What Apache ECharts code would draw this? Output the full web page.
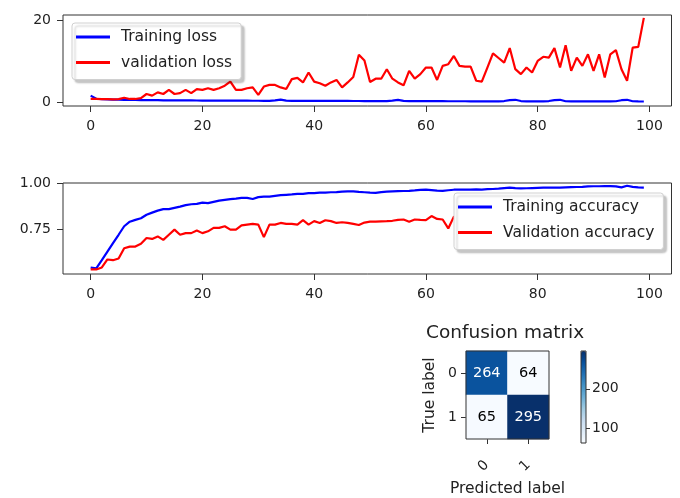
<!DOCTYPE html>
<html>
<head>
<meta charset="utf-8">
<script src="https://cdn.jsdelivr.net/npm/echarts@6/dist/echarts.min.js"></script>
<style>
  html, body { margin: 0; padding: 0; background: #fff; }
  #chart { width: 680px; height: 498px; }
</style>
</head>
<body>
<div id="chart"></div>
<script>
// epochs 0..99
const epochs = Array.from({ length: 100 }, (_, i) => i);

const trainLoss = [
  1.7, 0.95, 0.85, 0.8, 0.75, 0.72, 0.7, 0.68, 0.66, 0.64,
  0.62, 0.6, 0.6, 0.58, 0.57, 0.56, 0.55, 0.55, 0.54, 0.53,
  0.52, 0.52, 0.51, 0.5, 0.5, 0.49, 0.49, 0.48, 0.48, 0.47,
  0.47, 0.46, 0.46, 0.55, 0.75, 0.5, 0.45, 0.45, 0.44, 0.44,
  0.44, 0.43, 0.43, 0.43, 0.42, 0.42, 0.42, 0.41, 0.41, 0.4,
  0.4, 0.4, 0.39, 0.39, 0.5, 0.7, 0.45, 0.38, 0.37, 0.37,
  0.37, 0.36, 0.36, 0.36, 0.35, 0.35, 0.35, 0.35, 0.34, 0.34,
  0.34, 0.34, 0.34, 0.33, 0.4, 0.6, 0.7, 0.4, 0.33, 0.32,
  0.32, 0.32, 0.4, 0.6, 0.7, 0.35, 0.31, 0.31, 0.3, 0.3,
  0.3, 0.3, 0.3, 0.3, 0.35, 0.6, 0.7, 0.35, 0.3, 0.29
];
const valLoss = [
  0.9, 0.9, 0.85, 0.85, 0.8, 0.85, 1.2, 0.9, 0.9, 1.1,
  2.1, 1.7, 2.5, 2.1, 3.1, 2.1, 2.3, 3.1, 2.3, 3.3,
  3.1, 3.5, 3.1, 3.5, 4.1, 5.1, 3.1, 3.1, 3.5, 3.7,
  1.9, 3.9, 4.3, 4.3, 3.7, 3.3, 5.7, 6.0, 4.9, 7.3,
  5.1, 4.7, 4.1, 4.9, 5.5, 3.7, 4.9, 6.2, 11.6, 10.2,
  5.0, 5.8, 5.8, 8.1, 5.8, 4.9, 4.2, 7.7, 5.8, 6.9,
  8.5, 8.5, 5.5, 8.9, 9.3, 11.3, 8.9, 8.7, 8.7, 5.3,
  5.1, 8.5, 11.9, 10.8, 9.7, 13.2, 8.1, 6.9, 8.5, 7.3,
  10.1, 11.1, 10.9, 13.2, 8.5, 13.9, 7.7, 10.9, 8.9, 11.7,
  7.7, 11.7, 6.1, 11.7, 12.7, 8.1, 5.3, 13.3, 13.5, 20.5
];
const trainAcc = [
  0.538, 0.533, 0.578, 0.625, 0.672, 0.718, 0.765, 0.79, 0.80, 0.809,
  0.828, 0.84, 0.851, 0.859, 0.859, 0.866, 0.873, 0.881, 0.886, 0.888,
  0.895, 0.892, 0.899, 0.906, 0.91, 0.914, 0.917, 0.921, 0.921, 0.915,
  0.925, 0.928, 0.928, 0.932, 0.936, 0.938, 0.94, 0.943, 0.943, 0.947,
  0.947, 0.95, 0.95, 0.952, 0.953, 0.955, 0.957, 0.957, 0.954, 0.952,
  0.95, 0.949, 0.953, 0.955, 0.957, 0.958, 0.959, 0.96, 0.962, 0.965,
  0.967, 0.964, 0.961, 0.96, 0.963, 0.966, 0.967, 0.966, 0.967, 0.968,
  0.967, 0.969, 0.97, 0.972, 0.975, 0.978, 0.975, 0.973, 0.974, 0.975,
  0.976, 0.977, 0.977, 0.978, 0.978, 0.979, 0.98, 0.981, 0.982, 0.984,
  0.985, 0.985, 0.986, 0.986, 0.984, 0.979, 0.988, 0.982, 0.979, 0.978
];
const valAcc = [
  0.527, 0.527, 0.538, 0.582, 0.578, 0.587, 0.644, 0.653, 0.653, 0.668,
  0.70, 0.695, 0.709, 0.69, 0.718, 0.746, 0.718, 0.727, 0.727, 0.742,
  0.727, 0.737, 0.756, 0.756, 0.765, 0.746, 0.746, 0.77, 0.774, 0.778,
  0.774, 0.705, 0.774, 0.774, 0.783, 0.778, 0.778, 0.774, 0.798, 0.774,
  0.793, 0.783, 0.798, 0.793, 0.783, 0.787, 0.783, 0.778, 0.772, 0.785,
  0.79, 0.79, 0.792, 0.793, 0.795, 0.80, 0.802, 0.79, 0.802, 0.80,
  0.799, 0.821, 0.805, 0.802, 0.753, 0.818, 0.805, 0.81, 0.80, 0.815,
  0.82, 0.81, 0.805, 0.82, 0.815, 0.81, 0.825, 0.82, 0.81, 0.82,
  0.815, 0.83, 0.82, 0.81, 0.825, 0.82, 0.815, 0.83, 0.82, 0.81,
  0.825, 0.82, 0.83, 0.815, 0.82, 0.81, 0.825, 0.82, 0.80, 0.815
];

const epochTicks = [0, 20, 40, 60, 80, 100];
const lossTicks = [0, 20];
const accTicks = [0.75, 1.0];

const cmLabels = ['0', '1'];
const cmValues = [
  [264, 64],
  [65, 295]
];
const cbTicks = [100, 200];
const blues = ['#f7fbff', '#deebf7', '#c6dbef', '#9ecae1', '#6baed6', '#4292c6', '#2171b5', '#08519c', '#08306b'];

const FONT = 'DejaVu Sans';
const ink = '#222';
const axisCol = '#333';

function pairs(vals) {
  return epochs.map(i => [i, vals[i]]);
}

let cmMax = Math.max(...cmValues.flat());
let cmMin = Math.min(...cmValues.flat());
let cmData = [];
cmValues.forEach((row, r) => {
  row.forEach((v, c) => {
    cmData.push({
      value: [c, r, v],
      label: { color: v > cmMax / 2 ? '#fff' : '#000' }
    });
  });
});

function epochAxis(gi) {
  return {
    gridIndex: gi, type: 'value', min: -4.95, max: 103.95,
    splitLine: { show: false },
    axisLine: { show: false, onZero: false },
    axisTick: { show: true, length: 6, lineStyle: { color: axisCol }, customValues: epochTicks },
    axisLabel: { customValues: epochTicks, margin: 13, fontFamily: FONT, fontSize: 14, color: ink }
  };
}

function legendBox(top, left, names) {
  return {
    orient: 'vertical', left: left, top: top,
    data: names,
    icon: 'rect', itemWidth: 34, itemHeight: 3, itemGap: 8.5,
    padding: [5.5, 9, 8.5, 4],
    backgroundColor: '#fff', borderColor: '#d0d0d0', borderWidth: 1, borderRadius: 3,
    shadowColor: 'rgba(0,0,0,0.22)', shadowBlur: 2, shadowOffsetX: 3, shadowOffsetY: 3,
    textStyle: { fontFamily: FONT, fontSize: 15.5, lineHeight: 17, color: ink, padding: [0, 0, 0, 6] },
    selectedMode: false
  };
}

let chart = echarts.init(document.getElementById('chart'), null, { renderer: 'canvas' });
chart.setOption({
  backgroundColor: '#fff',
  animation: false,
  title: {
    text: 'Confusion matrix', left: 426, top: 324, padding: 0,
    textStyle: { fontFamily: FONT, fontSize: 18.5, fontWeight: 'normal', color: ink }
  },
  legend: [
    legendBox(23, 72, ['Training loss', 'validation loss']),
    legendBox(193, 454, ['Training accuracy', 'Validation accuracy'])
  ],
  grid: [
    { left: 63, top: 15, width: 608.5, height: 91, show: true, borderColor: axisCol, borderWidth: 1 },
    { left: 63, top: 183, width: 608.5, height: 91, show: true, borderColor: axisCol, borderWidth: 1 },
    { left: 466, top: 351, width: 83, height: 92, show: true, borderColor: axisCol, borderWidth: 1, z: 5 },
    { left: 581, top: 351, width: 5, height: 92, show: true, borderColor: axisCol, borderWidth: 1, z: 10 }
  ],
  xAxis: [
    epochAxis(0),
    epochAxis(1),
    {
      gridIndex: 2, type: 'category', data: cmLabels,
      axisLine: { show: false, onZero: false },
      axisTick: { show: true, alignWithLabel: true, length: 5, lineStyle: { color: axisCol } },
      axisLabel: { rotate: 45, margin: 24, fontFamily: FONT, fontSize: 14, color: ink },
      name: 'Predicted label', nameLocation: 'middle', nameGap: 42,
      nameTextStyle: { fontFamily: FONT, fontSize: 15.5, color: ink }
    },
    { gridIndex: 3, type: 'value', show: false, min: 0, max: 1 }
  ],
  yAxis: [
    {
      gridIndex: 0, type: 'value', min: -0.8, max: 21.2,
      splitLine: { show: false }, axisLine: { show: false, onZero: false },
      axisTick: { show: true, length: 6, lineStyle: { color: axisCol }, customValues: lossTicks },
      axisLabel: { customValues: lossTicks, margin: 12, fontFamily: FONT, fontSize: 14, color: ink }
    },
    {
      gridIndex: 1, type: 'value', min: 0.502, max: 1.003,
      splitLine: { show: false }, axisLine: { show: false, onZero: false },
      axisTick: { show: true, length: 6, lineStyle: { color: axisCol }, customValues: accTicks },
      axisLabel: {
        customValues: accTicks, margin: 12, fontFamily: FONT, fontSize: 14, color: ink,
        formatter: v => v.toFixed(2)
      }
    },
    {
      gridIndex: 2, type: 'category', data: cmLabels, inverse: true,
      axisLine: { show: false, onZero: false },
      axisTick: { show: true, alignWithLabel: true, length: 5, lineStyle: { color: axisCol } },
      axisLabel: { margin: 9, fontFamily: FONT, fontSize: 14, color: ink },
      name: 'True label', nameLocation: 'middle', nameGap: 28, nameRotate: 90,
      nameTextStyle: { fontFamily: FONT, fontSize: 15.5, color: ink }
    },
    {
      gridIndex: 3, type: 'value', min: cmMin, max: cmMax, position: 'right',
      splitLine: { show: false }, axisLine: { show: false, onZero: false },
      axisTick: { show: true, length: 4, lineStyle: { color: axisCol }, customValues: cbTicks },
      axisLabel: { customValues: cbTicks, margin: 6, fontFamily: FONT, fontSize: 14, color: ink }
    }
  ],
  visualMap: {
    type: 'continuous', min: cmMin, max: cmMax, seriesIndex: 4,
    calculable: false, left: 581, top: 351, itemWidth: 5, itemHeight: 92, padding: 0,
    inRange: { color: blues }, text: null, hoverLink: false
  },
  series: [
    { name: 'Training loss', type: 'line', xAxisIndex: 0, yAxisIndex: 0, data: pairs(trainLoss),
      showSymbol: false, symbol: 'none', color: '#0000ff', lineStyle: { width: 2.2 } },
    { name: 'validation loss', type: 'line', xAxisIndex: 0, yAxisIndex: 0, data: pairs(valLoss),
      showSymbol: false, symbol: 'none', color: '#ff0000', lineStyle: { width: 2.2 } },
    { name: 'Training accuracy', type: 'line', xAxisIndex: 1, yAxisIndex: 1, data: pairs(trainAcc),
      showSymbol: false, symbol: 'none', color: '#0000ff', lineStyle: { width: 2.2 } },
    { name: 'Validation accuracy', type: 'line', xAxisIndex: 1, yAxisIndex: 1, data: pairs(valAcc),
      showSymbol: false, symbol: 'none', color: '#ff0000', lineStyle: { width: 2.2 } },
    { name: 'cm', type: 'heatmap', xAxisIndex: 2, yAxisIndex: 2, data: cmData,
      label: { show: true, fontFamily: FONT, fontSize: 14.5, formatter: p => p.value[2] } }
  ]
});
</script>
</body>
</html>
